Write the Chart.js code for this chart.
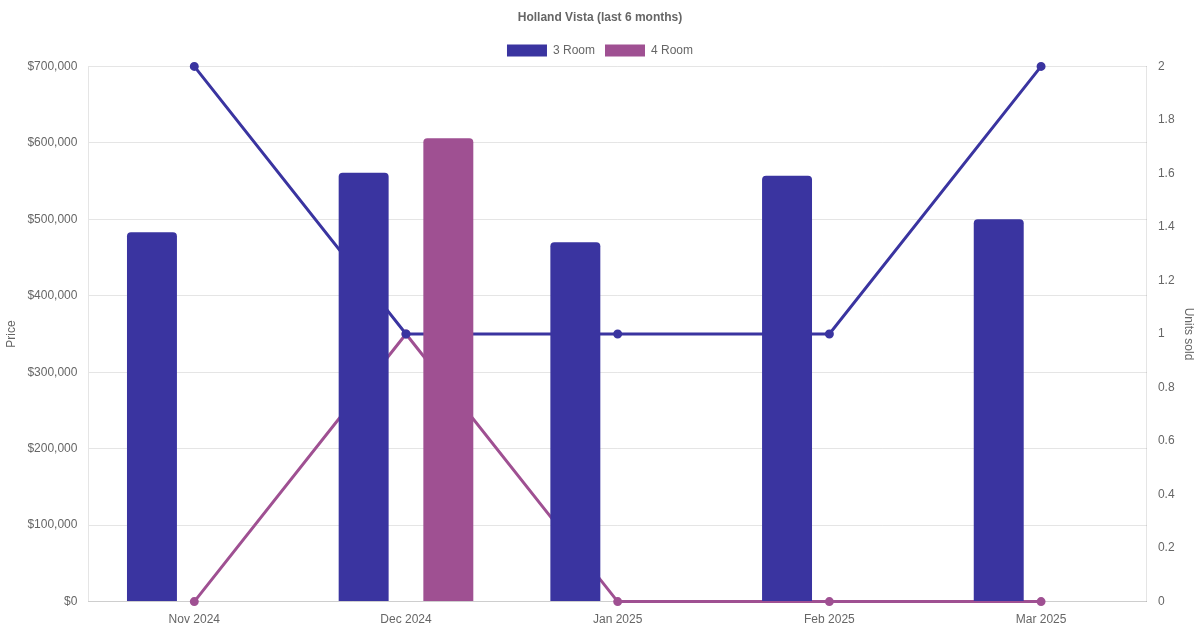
<!DOCTYPE html>
<html lang="en">
<head>
  <meta charset="UTF-8" />
  <title>Holland Vista</title>
  <script src="https://cdn.jsdelivr.net/npm/chart.js"></script>
  <style>
    html, body { margin: 0; padding: 0; background: #fff; }
    .wrap { width: 1200px; height: 630px; }
  </style>
</head>
<body>
  <div class="wrap"><canvas id="chart"></canvas></div>

  <script>
    const months = ["Nov 2024", "Dec 2024", "Jan 2025", "Feb 2025", "Mar 2025"];
    const price3Room = [483000, 561000, 470000, 557000, 500000];
    const price4Room = [null, 606000, null, null, null];
    const units3Room = [2, 1, 1, 1, 2];
    const units4Room = [0, 1, 0, 0, 0];

    const blue = "#3a34a0";
    const purple = "#9f5092";

    Chart.defaults.font.family = "'Liberation Sans', Arial, sans-serif";
    Chart.defaults.color = "#666";

    new Chart(document.getElementById("chart"), {
      data: {
        labels: months,
        datasets: [
          { type: "bar", label: "3 Room", data: price3Room, backgroundColor: blue, borderRadius: 4, barPercentage: 0.59, yAxisID: "y" },
          { type: "bar", label: "4 Room", data: price4Room, backgroundColor: purple, borderRadius: 4, barPercentage: 0.59, yAxisID: "y" },
          { type: "line", label: "3 Room units", data: units3Room, borderColor: blue, backgroundColor: blue, borderWidth: 3, pointRadius: 3, clip: false, yAxisID: "y1" },
          { type: "line", label: "4 Room units", data: units4Room, borderColor: purple, backgroundColor: purple, borderWidth: 3, pointRadius: 3, clip: false, yAxisID: "y1" }
        ]
      },
      options: {
        responsive: true,
        maintainAspectRatio: false,
        animation: false,
        plugins: {
          title: { display: true, text: "Holland Vista (last 6 months)", font: { size: 12, weight: "bold" } },
          legend: {
            labels: { filter: item => item.datasetIndex < 2 }
          }
        },
        scales: {
          x: { grid: { display: false } },
          y: {
            position: "left",
            min: 0,
            max: 700000,
            ticks: { stepSize: 100000, callback: v => "$" + v.toLocaleString("en-US") },
            grid: { tickColor: "transparent" },
            title: { display: true, text: "Price" },
            afterFit: s => { s.width += 2; }
          },
          y1: {
            position: "right",
            min: 0,
            max: 2,
            ticks: { stepSize: 0.2, callback: v => String(Math.round(v * 10) / 10) },
            grid: { drawOnChartArea: false, tickColor: "transparent" },
            title: { display: true, text: "Units sold" }
          }
        }
      }
    });
  </script>
</body>
</html>
